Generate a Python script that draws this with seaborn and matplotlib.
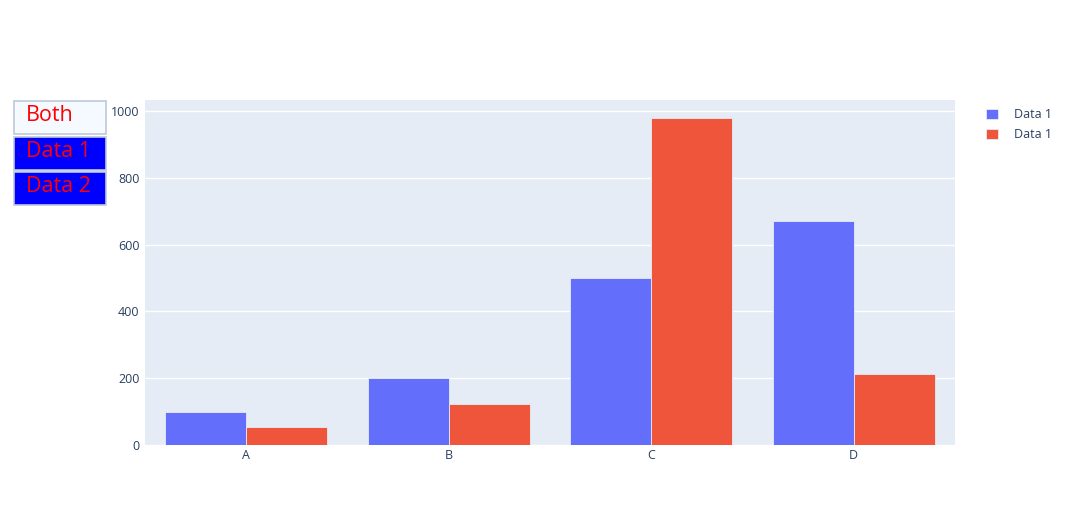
import pandas as pd
import matplotlib.pyplot as plt
import seaborn as sns
from matplotlib.patches import Rectangle

# data
categories = ["A", "B", "C", "D"]
data1_values = [100, 200, 500, 672]
data2_values = [55, 122, 980, 213]
legend_labels = ["Data 1", "Data 1"]
button_labels = ["Both", "Data 1", "Data 2"]

df = pd.DataFrame({
    "category": categories * 2,
    "value": data1_values + data2_values,
    "series": ["Data 1"] * len(categories) + ["Data 2"] * len(categories),
})

sns.set_theme(style="darkgrid")
plt.rcParams["font.family"] = ["Open Sans", "DejaVu Sans"]

W, H = 1070, 525
fig = plt.figure(figsize=(W / 100, H / 100), dpi=100)
ax = fig.add_axes([145 / W, 1 - 445 / H, 810 / W, 345 / H])
ax.set_facecolor("#E5ECF6")

sns.barplot(data=df, x="category", y="value", hue="series",
            palette=["#636EFA", "#EF553B"], width=0.8, gap=0,
            edgecolor="#E5ECF6", linewidth=0.6, saturation=1, ax=ax)

ax.set_xlim(-0.5, 3.5)
ax.set_ylim(0, 1033)
ax.set_yticks([0, 200, 400, 600, 800, 1000])
ax.grid(axis="y", color="white", linewidth=1)
ax.grid(axis="x", visible=False)
ax.set_xlabel("")
ax.set_ylabel("")
for s in ax.spines.values():
    s.set_visible(False)
ax.tick_params(axis="both", labelsize=9, colors="#2a3f5f", length=0)
ax.tick_params(axis="x", pad=3)
ax.tick_params(axis="y", pad=4)

# legend (both entries read "Data 1" in the original)
handles, _ = ax.get_legend_handles_labels()
ax.legend(handles, legend_labels, loc="upper left",
          bbox_to_anchor=(975 / W, 1 - 97 / H), bbox_transform=fig.transFigure,
          frameon=False, fontsize=9, labelcolor="#2a3f5f",
          handlelength=0.9, handleheight=0.9, handletextpad=1.3, labelspacing=0.55)

# button stack on the left
boxes = [(101, 134, "#F4FAFF"), (137, 170, "#0000FF"), (172, 205, "#0000FF")]
for (top, bottom, fc), label in zip(boxes, button_labels):
    fig.patches.append(Rectangle((14 / W, 1 - bottom / H), 92 / W, (bottom - top) / H,
                                 transform=fig.transFigure, facecolor=fc,
                                 edgecolor="#BEC8D9", linewidth=1.2))
    fig.text(26 / W, 1 - ((top + bottom) / 2 - 2) / H, label, color="red",
             fontsize=15.5, va="center", ha="left")

plt.savefig("out.png", dpi=100)
